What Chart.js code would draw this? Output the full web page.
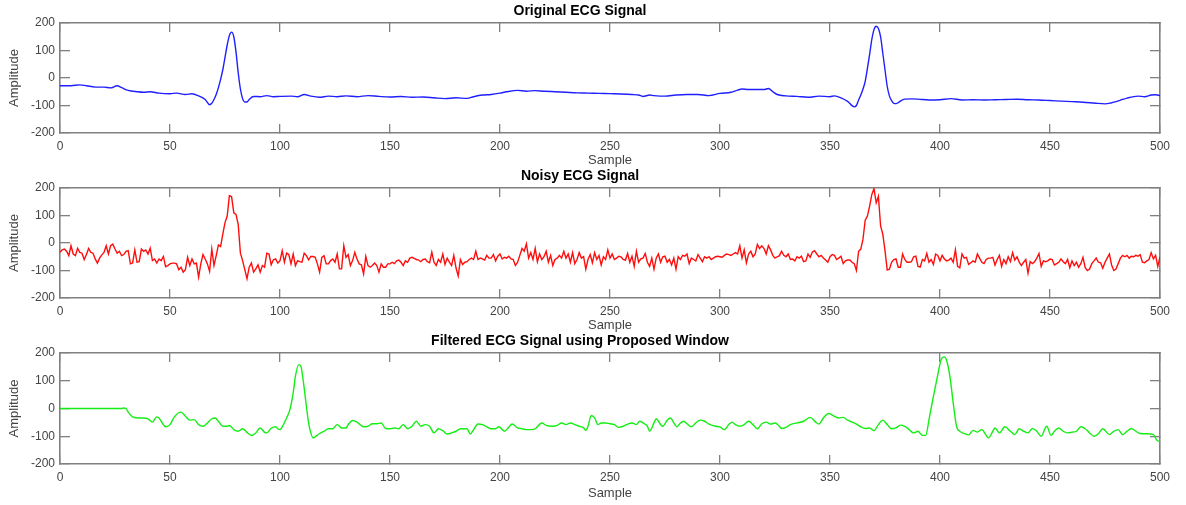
<!DOCTYPE html>
<html>
<head>
<meta charset="utf-8">
<script src="https://cdn.jsdelivr.net/npm/chart.js@4.4.1/dist/chart.umd.min.js"></script>
<style>
  html, body { margin: 0; padding: 0; background: #fff; overflow: hidden; }
  #figure { position: relative; width: 1186px; height: 505px; }
  #figure canvas { position: absolute; left: 0; }
</style>
</head>
<body>
<div id="figure">
  <canvas id="origChart" width="1186" height="170" style="top:0px"></canvas>
  <canvas id="noisyChart" width="1186" height="170" style="top:165px"></canvas>
  <canvas id="filtChart" width="1186" height="175" style="top:330px"></canvas>
</div>
<script>
const xTicks = [0, 50, 100, 150, 200, 250, 300, 350, 400, 450, 500];
const yTicks = [-200, -100, 0, 100, 200];

// original ECG (sample, amplitude)
const origSamples = [0, 5, 9, 12, 16, 20, 23, 26, 28, 31, 35, 38, 41, 45, 50, 53, 57, 60, 63, 66, 68, 69, 70, 71, 72, 73, 74, 75, 76, 77, 78, 79, 80, 81, 82, 83, 84, 85, 86, 88, 91, 94, 97, 100, 105, 108, 111, 114, 118, 122, 126, 130, 135, 140, 145, 150, 155, 160, 165, 170, 175, 180, 185, 188, 192, 196, 200, 203, 208, 212, 216, 220, 225, 230, 235, 240, 245, 250, 255, 260, 263, 265, 268, 270, 275, 280, 285, 290, 295, 300, 305, 308, 310, 313, 317, 320, 322, 324, 326, 330, 335, 340, 345, 350, 352, 355, 358, 361, 362, 363, 364, 365, 366, 367, 368, 369, 370, 371, 372, 373, 374, 375, 376, 377, 378, 379, 380, 381, 382, 384, 387, 390, 395, 400, 405, 410, 415, 420, 425, 430, 435, 440, 445, 450, 455, 460, 465, 470, 475, 478, 480, 483, 485, 490, 493, 496, 498, 500];
const origValues = [-28, -28, -25, -28, -33, -33, -36, -28, -35, -45, -50, -52, -50, -55, -57, -55, -60, -57, -65, -78, -97, -92, -78, -60, -35, -5, 30, 75, 120, 155, 167, 150, 95, 20, -40, -75, -87, -87, -78, -67, -68, -64, -68, -67, -66, -68, -60, -66, -70, -66, -68, -65, -68, -64, -67, -69, -67, -70, -69, -72, -75, -72, -74, -68, -62, -60, -55, -50, -45, -48, -46, -48, -50, -52, -54, -55, -56, -57, -58, -60, -62, -67, -62, -64, -66, -62, -60, -60, -64, -56, -52, -44, -40, -42, -42, -42, -38, -50, -60, -65, -67, -70, -66, -68, -65, -72, -85, -105, -100, -80, -62, -40, -12, 35, 85, 140, 176, 188, 180, 150, 90, 30, -30, -65, -82, -92, -93, -90, -84, -77, -76, -77, -80, -79, -75, -80, -79, -80, -79, -78, -77, -79, -80, -82, -84, -86, -88, -91, -94, -90, -86, -78, -73, -66, -68, -62, -61, -64];

// noisy ECG, one value per sample 0..500
const noisyValues = [
  -34, -25, -22, -30, -46, -10, -40, -46, -19, -34,
  -37, -60, -42, -20, -34, -37, -58, -73, -55, -43,
  -34, -10, -40, -10, -4, -22, -37, -30, -46, -42,
  -30, -28, -76, -73, -25, -70, -68, -22, -30, -25,
  -40, -19, -64, -58, -73, -58, -64, -49, -86, -82,
  -76, -73, -73, -76, -97, -88, -106, -97, -52, -82,
  -58, -76, -73, -124, -76, -42, -58, -76, -103, -22,
  -82, -46, -7, -13, 32, 74, 98, 172, 168, 110,
  104, 68, -37, -64, -97, -130, -88, -73, -106, -94,
  -79, -106, -82, -88, -37, -40, -79, -61, -58, -73,
  -64, -28, -70, -37, -42, -76, -40, -82, -64, -68,
  -70, -37, -46, -61, -49, -49, -52, -76, -106, -52,
  -46, -76, -76, -64, -58, -70, -40, -94, -94, -10,
  -52, -42, -82, -64, -34, -58, -76, -79, -112, -49,
  -82, -88, -82, -73, -82, -106, -76, -88, -88, -76,
  -76, -70, -75, -65, -62, -70, -82, -65, -70, -55,
  -52, -56, -60, -62, -68, -60, -58, -68, -72, -33,
  -70, -82, -60, -70, -40, -78, -55, -70, -82, -45,
  -90, -120, -60, -78, -70, -68, -60, -55, -60, -30,
  -60, -55, -58, -62, -45, -55, -55, -42, -65, -48,
  -40, -58, -52, -55, -48, -58, -60, -82, -70, -45,
  -20, -30, -3, -55, -35, -60, -20, -68, -40, -60,
  -50, -30, -70, -45, -82, -60, -55, -45, -55, -30,
  -55, -40, -70, -35, -75, -60, -35, -55, -50, -95,
  -60, -42, -72, -35, -60, -45, -80, -50, -60, -25,
  -55, -40, -60, -55, -48, -50, -60, -62, -38, -70,
  -48, -85, -30, -70, -58, -55, -38, -70, -85, -55,
  -95, -55, -40, -70, -50, -48, -70, -60, -80, -55,
  -95, -50, -60, -45, -48, -40, -75, -55, -60, -65,
  -42, -55, -68, -50, -55, -50, -60, -55, -50, -48,
  -50, -52, -45, -40, -42, -45, -40, -35, -40, -10,
  -55, -25, -72, -40, -30, -50, -40, -5, -20, -10,
  -20, -40, -10, -25, -45, -55, -50, -46, -30, -45,
  -50, -40, -60, -58, -65, -50, -55, -48, -68, -65,
  -40, -52, -33, -28, -40, -50, -45, -55, -62, -70,
  -50, -42, -45, -60, -55, -48, -75, -65, -62, -62,
  -70, -75, -100, -30, -22, 14, 83, 98, 134, 176,
  198, 146, 170, 62, 32, -28, -98, -95, -70, -60,
  -58, -88, -88, -40, -60, -70, -70, -68, -50, -48,
  -85, -88, -60, -65, -38, -70, -60, -78, -40, -45,
  -65, -45, -58, -65, -62, -55, -70, -25, -85, -90,
  -40, -55, -52, -78, -72, -65, -70, -40, -55, -70,
  -75, -60, -55, -55, -52, -80, -60, -45, -85, -60,
  -75, -50, -68, -35, -62, -50, -70, -82, -70, -60,
  -110, -68, -75, -68, -55, -38, -85, -65, -68, -65,
  -58, -60, -80, -75, -70, -58, -68, -75, -60, -90,
  -65, -82, -70, -88, -75, -52, -90, -100, -95, -75,
  -65, -55, -70, -72, -92, -70, -55, -40, -80, -100,
  -95, -75, -55, -45, -50, -45, -55, -48, -50, -45,
  -48, -42, -70, -72, -65, -60, -35, -58, -45, -85,
  -50
];

// filtered ECG (sample, amplitude)
const filtSamples = [0, 28, 29, 30, 31, 33, 36, 38, 40, 42, 44, 45, 47, 48, 50, 52, 55, 57, 59, 61, 63, 65, 67, 69, 70.5, 72, 74, 76, 77, 79, 81, 83, 85, 87, 89, 91, 93, 94, 96, 98, 99, 100, 101, 103, 104.5, 106, 107, 108.5, 109.5, 110.5, 112, 113, 114, 115, 116, 118, 120, 122, 124, 126, 128, 130, 131, 133, 135, 138, 140, 142, 144, 146, 148, 150, 152, 154, 156, 158, 160, 162, 164, 166, 168, 170, 172, 174, 176, 178, 180, 182, 185, 186.5, 188, 190, 192, 194, 196, 198, 199.5, 202, 204, 205.5, 208, 210, 212, 214, 216, 219, 221, 224, 226, 228, 230, 232, 234, 236, 238, 239, 240, 241.5, 243, 244.5, 246, 248, 250, 252, 254, 256, 258, 260, 262, 263.5, 265, 267, 268, 270, 271, 273, 274, 276, 277.5, 279, 280.5, 282, 283.5, 285, 287, 289, 291, 293, 295, 298, 300, 302, 304, 305.5, 307, 309, 311, 313, 315, 317, 319, 321, 323, 325, 327, 328, 330, 332, 335, 338, 341, 343.5, 345, 347, 349.5, 352, 354, 356, 358, 360, 362, 364, 366, 368, 370, 372, 374, 376, 378, 380, 382, 384, 386, 388, 390, 392, 393.5, 395, 397, 399, 400.5, 402, 403, 404.5, 406, 407.5, 409, 411, 413, 415, 417, 419, 421, 422, 424, 425, 427, 429.5, 432, 434, 436, 438, 440, 442, 444, 446, 448.5, 450.5, 452, 454, 456, 458, 460, 462, 464, 466, 468, 470, 472, 474, 477, 479, 481, 483, 485, 487, 489, 491, 494, 497, 498.5, 500];
const filtValues = [0, 0, 2, 0, -13, -30, -34, -34, -37, -49, -30, -34, -58, -66, -58, -30, -13, -28, -42, -40, -58, -64, -52, -37, -34, -46, -64, -64, -61, -76, -82, -73, -86, -97, -88, -70, -86, -88, -71, -66, -73, -76, -66, -34, -4, 56, 116, 158, 152, 104, 8, -52, -88, -106, -102, -90, -82, -73, -73, -58, -70, -70, -58, -43, -49, -66, -64, -55, -55, -52, -72, -73, -70, -73, -58, -73, -64, -46, -64, -58, -64, -88, -73, -80, -92, -88, -82, -73, -73, -92, -76, -56, -58, -66, -73, -73, -66, -82, -68, -56, -70, -73, -76, -76, -73, -52, -61, -64, -61, -52, -58, -52, -58, -64, -70, -79, -64, -25, -34, -58, -52, -52, -55, -58, -68, -64, -56, -52, -58, -46, -52, -64, -82, -52, -37, -58, -64, -42, -34, -52, -66, -52, -46, -55, -66, -52, -42, -46, -56, -64, -66, -76, -58, -49, -58, -64, -58, -46, -58, -73, -55, -49, -56, -52, -64, -72, -68, -58, -52, -46, -32, -49, -56, -34, -18, -28, -34, -32, -42, -49, -56, -66, -72, -70, -80, -58, -42, -58, -73, -70, -60, -64, -76, -88, -82, -97, -97, -40, 44, 122, 176, 186, 174, 116, 20, -64, -82, -90, -95, -79, -85, -76, -97, -106, -82, -70, -88, -66, -82, -94, -73, -82, -88, -72, -82, -100, -64, -97, -82, -70, -82, -88, -85, -82, -66, -73, -88, -100, -91, -73, -94, -82, -76, -94, -82, -72, -82, -90, -91, -94, -114, -120];

const FONT = "'Liberation Sans', Arial, sans-serif";
const AXIS_GREY = '#808080';
const TEXT_GREY = '#444';

// MATLAB-style frame: border on all four sides, tick marks pointing inward
const xGrid = { display: true, drawOnChartArea: false, drawTicks: true, tickLength: -9, color: AXIS_GREY, lineWidth: 1.3 };
const yGrid = { display: true, drawOnChartArea: false, drawTicks: true, tickLength: -10, color: AXIS_GREY, lineWidth: 1.3 };
const frame = { display: true, color: AXIS_GREY, width: 1.6 };

function makeChart(id, title, samples, values, color, smooth, xAxisHeight, sampleGap) {
  const points = samples.map((s, i) => ({ x: s, y: values[i] }));
  const setXTicks = s => { s.ticks = xTicks.map(v => ({ value: v })); };
  const setYTicks = s => { s.ticks = yTicks.map(v => ({ value: v })); };
  return new Chart(document.getElementById(id), {
    type: 'line',
    data: {
      datasets: [{
        data: points,
        borderColor: color,
        borderWidth: 1.4,
        pointRadius: 0,
        fill: false,
        cubicInterpolationMode: smooth ? 'monotone' : 'default',
        tension: 0
      }]
    },
    options: {
      responsive: false,
      animation: false,
      events: [],
      layout: { padding: { left: 0, right: 26, top: 0, bottom: 0 } },
      plugins: {
        legend: { display: false },
        tooltip: { enabled: false },
        title: {
          display: true,
          text: title,
          color: '#000',
          font: { family: FONT, size: 14, weight: 'bold', lineHeight: 1.2 },
          padding: { top: 3, bottom: 3.2 }
        }
      },
      scales: {
        x: {
          type: 'linear', position: 'bottom', min: 0, max: 500,
          afterBuildTicks: setXTicks,
          afterFit: s => { s.height = xAxisHeight; },
          grid: xGrid,
          border: frame,
          ticks: { color: TEXT_GREY, padding: 15, maxRotation: 0, font: { family: FONT, size: 12 } },
          title: { display: true, text: 'Sample', color: TEXT_GREY, padding: { top: 0, bottom: sampleGap }, font: { family: FONT, size: 13 } }
        },
        xTop: {
          type: 'linear', position: 'top', min: 0, max: 500,
          afterBuildTicks: setXTicks,
          afterFit: s => { s.height = 0; },
          grid: xGrid,
          border: frame,
          ticks: { display: false }
        },
        y: {
          type: 'linear', position: 'left', min: -200, max: 200,
          afterBuildTicks: setYTicks,
          afterFit: s => { s.width = 60; },
          grid: yGrid,
          border: frame,
          ticks: { color: TEXT_GREY, padding: 15, font: { family: FONT, size: 12 } },
          title: { display: true, text: 'Amplitude', color: TEXT_GREY, padding: { top: 7, bottom: 0 }, font: { family: FONT, size: 13 } }
        },
        yRight: {
          type: 'linear', position: 'right', min: -200, max: 200,
          afterBuildTicks: setYTicks,
          afterFit: s => { s.width = 0; },
          grid: yGrid,
          border: frame,
          ticks: { display: false }
        }
      }
    }
  });
}

makeChart('origChart', 'Original ECG Signal', origSamples, origValues, '#1f1fff', true, 37, 1.7);
makeChart('noisyChart', 'Noisy ECG Signal', noisyValues.map((v, i) => i), noisyValues, '#ff0d0d', false, 37, 1.7);
makeChart('filtChart', 'Filtered ECG Signal using Proposed Window', filtSamples, filtValues, '#14ee14', true, 41, 3.7);
</script>
</body>
</html>
